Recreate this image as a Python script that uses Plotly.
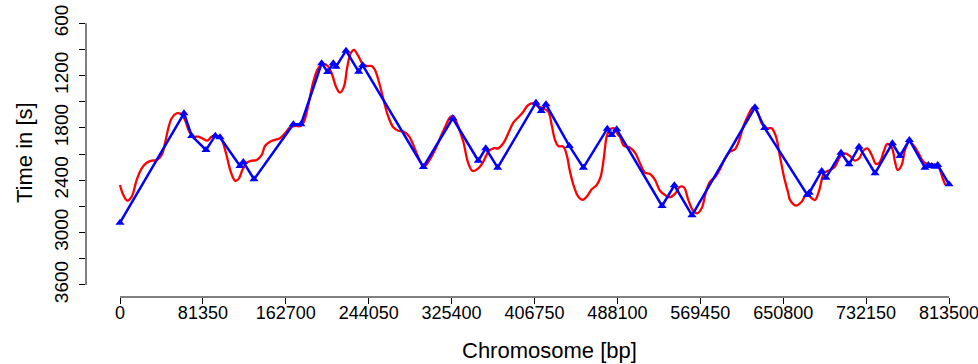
import plotly.graph_objects as go

# Blue (measured) points: chromosome position [bp], time [s]
blue_pos = [0, 62800, 70360, 84390, 93530, 98130, 117760, 121000, 131500,
            170100, 177600, 197900, 203800, 209300, 212000, 221800, 234200, 238200,
            297700, 326500, 351600, 358900, 370600, 408200, 413400, 418000,
            440900, 454700, 478200, 482500, 487400, 531900, 544000, 561300,
            623100, 632600, 674500, 676400, 688600, 692800, 707500, 715400,
            725200, 740900, 757900, 765400, 774600, 789900, 793200, 796500,
            799700, 802400, 813500]
blue_time = [2887, 1632, 1892, 2053, 1889, 1907, 2236, 2190, 2389,
             1758, 1758, 1059, 1158, 1059, 1098, 914, 1155, 1082,
             2248, 1689, 2176, 2034, 2256, 1510, 1606, 1529,
             2007, 2256, 1809, 1881, 1816, 2695, 2458, 2802,
             1563, 1801, 2569, 2543, 2294, 2371, 2084, 2217,
             2015, 2320, 1976, 2122, 1938, 2256, 2225, 2236,
             2245, 2225, 2446]

# Red (model) curve
red_pos = [0, 3240, 7160, 11480, 16390, 21290, 26200, 31110, 36010, 40920,
           44160, 47400, 50730, 55640, 59860, 63780, 68000, 71930, 76830, 81740,
           85670, 89980, 94890, 99800, 104020, 108630, 112850, 116090, 120410, 124330,
           129240, 134140, 139050, 142290, 147200, 152100, 157010, 161910, 166820, 171730,
           177320, 180560, 184780, 189690, 194590, 199500, 203820, 207740, 211960, 215890,
           219810, 223050, 226380, 229620, 233840, 238160, 242670, 246990, 250230, 254450,
           259060, 263280, 268190, 273090, 278690, 283890, 287820, 291740, 296060, 299300,
           304200, 309110, 314020, 318920, 323830, 327070, 331970, 336880, 341790, 346110,
           351600, 356510, 361420, 366320, 371230, 376130, 381040, 385950, 390850, 395760,
           400660, 405570, 410480, 415380, 420290, 423630, 426870, 430100, 435010, 438350,
           441590, 445510, 449730, 454050, 458560, 462880, 467790, 471710, 474950, 477600,
           480840, 484760, 488980, 490650, 494570, 499780, 505370, 510280, 515180, 520090,
           525000, 529900, 534810, 539720, 544620, 549530, 553450, 557670, 561990, 566500,
           570820, 575040, 578970, 583870, 588780, 593680, 598590, 603500, 607720, 611640,
           616550, 621450, 625380, 629690, 634600, 639500, 643720, 647650, 651570, 655790,
           657470, 663330, 668950, 673860, 678760, 682000, 686220, 690830, 696720, 701620,
           706530, 711430, 716340, 721250, 725470, 729390, 733320, 737640, 741860, 745790,
           749710, 752950, 757270, 760510, 763160, 767080, 770320, 774540, 778470, 783370,
           788280, 793190, 798100, 803000, 807320, 809870]
red_time = [2454, 2569, 2634, 2588, 2397, 2263, 2199, 2176, 2168, 2110,
            1976, 1804, 1689, 1632, 1640, 1709, 1843, 1900, 1900, 1927,
            1946, 1900, 1892, 1938, 2091, 2302, 2405, 2389, 2274, 2199,
            2176, 2168, 2110, 2007, 1958, 1938, 1919, 1862, 1793, 1778,
            1778, 1728, 1537, 1270, 1116, 1067, 1090, 1173, 1327, 1396,
            1327, 1098, 944, 906, 975, 1067, 1090, 1090, 1136, 1288,
            1499, 1671, 1793, 1832, 1843, 1900, 1996, 2110, 2213, 2236,
            2160, 2053, 1919, 1793, 1678, 1663, 1786, 1958, 2206, 2294,
            2263, 2187, 2072, 2034, 2034, 1976, 1862, 1740, 1678, 1614,
            1537, 1517, 1556, 1575, 1614, 1766, 1938, 2007, 2015, 2110,
            2302, 2474, 2588, 2626, 2581, 2504, 2454, 2359, 2130, 1900,
            1816, 1804, 1881, 1900, 2007, 2022, 2084, 2206, 2313, 2328,
            2397, 2520, 2569, 2595, 2557, 2474, 2481, 2626, 2741, 2779,
            2722, 2531, 2416, 2366, 2274, 2148, 2072, 2045, 1938, 1786,
            1652, 1563, 1614, 1747, 1804, 1804, 1900, 2130, 2359, 2550,
            2626, 2692, 2646, 2557, 2607, 2626, 2512, 2320, 2282, 2244,
            2130, 2091, 2122, 2176, 2148, 2061, 2034, 2110, 2213, 2187,
            2061, 1984, 2022, 2187, 2282, 2225, 2053, 1958, 1996, 2084,
            2187, 2217, 2217, 2244, 2378, 2454]

x_ticks = [0, 81350, 162700, 244050, 325400, 406750, 488100, 569450, 650800, 732150, 813500]
x_ticktext = [str(v) for v in x_ticks]
y_ticks = [600, 900, 1200, 1500, 1800, 2100, 2400, 2700, 3000, 3300, 3600]
y_ticktext = [str(v) if v % 600 == 0 else "" for v in y_ticks]

FONT = "Liberation Sans, Arial, Helvetica, sans-serif"
NARROW = "Liberation Sans Narrow, Arial Narrow, Liberation Sans, sans-serif"

fig = go.Figure()
fig.add_trace(go.Scatter(x=red_pos, y=red_time, mode="lines",
                         line=dict(color="#ff0000", width=2.3, shape="spline", smoothing=1.0),
                         showlegend=False, hoverinfo="skip"))
fig.add_trace(go.Scatter(x=blue_pos, y=blue_time, mode="lines+markers",
                         line=dict(color="#0000ff", width=2.5),
                         marker=dict(symbol="triangle-up", size=8, color="#0000ff"),
                         showlegend=False))

# R-style axis lines spanning only the tick range
fig.add_shape(type="line", xref="paper", yref="y", x0=0, x1=0, y0=600, y1=3600,
              line=dict(color="black", width=1))
fig.add_shape(type="line", xref="x", yref="paper", x0=0, x1=813500, y0=0, y1=0,
              line=dict(color="black", width=1))

fig.add_annotation(text="Chromosome [bp]", xref="paper", yref="paper",
                   x=(549 - 86) / 892, y=-(350 - 297) / 297, xanchor="center", yanchor="middle",
                   showarrow=False, font=dict(family=FONT, size=22, color="black"))
fig.add_annotation(text="Time in [s]", xref="paper", yref="paper",
                   x=-(86 - 24) / 892, y=(297 - 152) / 297, xanchor="center", yanchor="middle",
                   showarrow=False, textangle=-90,
                   font=dict(family=FONT, size=22, color="black"))

fig.update_layout(
    width=978, height=364,
    margin=dict(l=86, r=0, t=0, b=67, autoexpand=False),
    paper_bgcolor="white", plot_bgcolor="white",
    font=dict(family=NARROW, size=18, color="black"),
    xaxis=dict(range=[-33360, 841960], showgrid=False, zeroline=False, showline=False,
               automargin=False,
               tickmode="array", tickvals=x_ticks, ticktext=x_ticktext,
               ticks="outside", ticklen=6, tickcolor="black", tickwidth=1,
               ticklabelstandoff=-7, ticklabeloverflow="allow",
               tickfont=dict(family=NARROW, size=18)),
    yaxis=dict(range=[3739, 333], showgrid=False, zeroline=False, showline=False,
               automargin=False,
               tickmode="array", tickvals=y_ticks, ticktext=y_ticktext,
               ticks="outside", ticklen=6, tickcolor="black", tickwidth=1,
               tickangle=-90, ticklabelstandoff=3, ticklabeloverflow="allow",
               tickfont=dict(family=NARROW, size=19)),
)

fig.write_html("out.html")
